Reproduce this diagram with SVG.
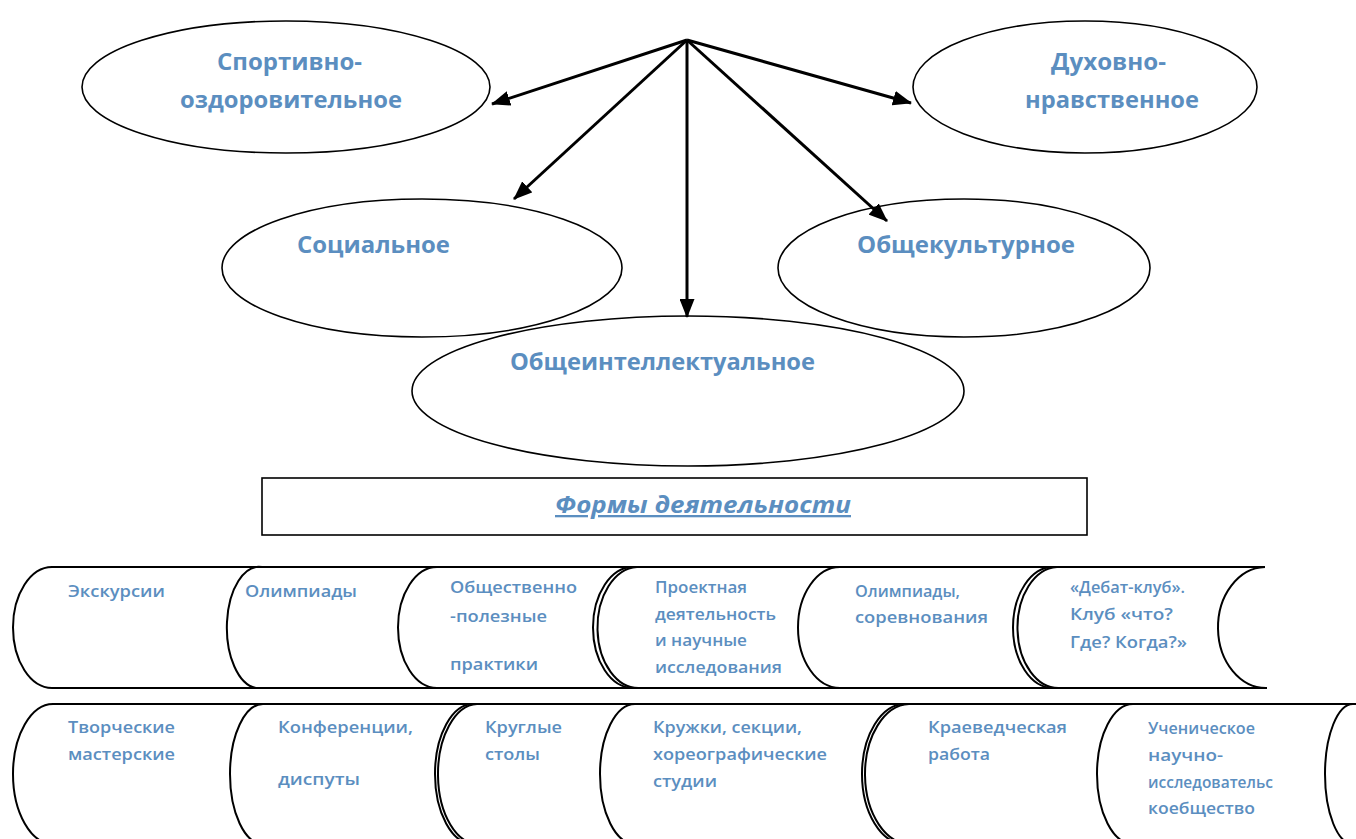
<svg xmlns="http://www.w3.org/2000/svg" width="1356" height="839" viewBox="0 0 1356 839">
<defs>
<style>
.ell{fill:none;stroke:#000;stroke-width:1.6}
.lbl{font-family:"Open Sans","Liberation Sans",sans-serif;font-weight:bold;font-size:23px;fill:#5b8ec0}
.ttl{font-family:"Open Sans","Liberation Sans",sans-serif;font-weight:bold;font-style:italic;font-size:23px;fill:#5b8ec0;text-decoration:underline}
.cell{font-family:"Open Sans","Liberation Sans",sans-serif;font-size:16.5px;font-weight:600;fill:#5b8ec0}
.conn{stroke:#000;stroke-width:3;fill:none;marker-end:url(#ah)}
.arc{fill:none;stroke:#000;stroke-width:2}
.rule{stroke:#000;stroke-width:2;fill:none}
.box{fill:none;stroke:#000;stroke-width:1.6}
</style>
<marker id="ah" markerUnits="userSpaceOnUse" markerWidth="19" markerHeight="15" refX="18" refY="7.5" orient="auto">
<path d="M0,0 L19,7.5 L0,15 z" fill="#000"/>
</marker>
</defs>
<rect width="1356" height="839" fill="#fff"/>

<g id="connectors">
<line class="conn" x1="687" y1="40" x2="492" y2="104"/>
<line class="conn" x1="687" y1="40" x2="911" y2="103"/>
<line class="conn" x1="687" y1="40" x2="514" y2="199"/>
<line class="conn" x1="687" y1="40" x2="887" y2="221"/>
<line class="conn" x1="687" y1="40" x2="687" y2="317"/>
</g>

<g id="sport">
<ellipse class="ell" cx="286" cy="87" rx="204" ry="66"/>
<text class="lbl" x="217" y="70" textLength="145" lengthAdjust="spacingAndGlyphs">Спортивно-</text>
<text class="lbl" x="180" y="108" textLength="222" lengthAdjust="spacingAndGlyphs">оздоровительное</text>
</g>

<g id="duh">
<ellipse class="ell" cx="1085" cy="87" rx="172" ry="66"/>
<text class="lbl" x="1051" y="70" textLength="115" lengthAdjust="spacingAndGlyphs">Духовно-</text>
<text class="lbl" x="1025" y="108" textLength="174" lengthAdjust="spacingAndGlyphs">нравственное</text>
</g>

<g id="soc">
<ellipse class="ell" cx="422" cy="268" rx="200" ry="69"/>
<text class="lbl" x="297" y="253" textLength="153" lengthAdjust="spacingAndGlyphs">Социальное</text>
</g>

<g id="kult">
<ellipse class="ell" cx="964" cy="268" rx="186" ry="69"/>
<text class="lbl" x="857" y="253" textLength="218" lengthAdjust="spacingAndGlyphs">Общекультурное</text>
</g>

<g id="intel">
<ellipse class="ell" cx="688" cy="391" rx="276" ry="75"/>
<text class="lbl" x="510" y="370" textLength="305" lengthAdjust="spacingAndGlyphs">Общеинтеллектуальное</text>
</g>

<g id="forms">
<rect class="box" x="262" y="478" width="825" height="57"/>
<text class="ttl" x="555" y="513" textLength="296" lengthAdjust="spacingAndGlyphs">Формы деятельности</text>
</g>

<g id="row1">
<line class="rule" x1="52" y1="567" x2="1265" y2="567"/>
<line class="rule" x1="52" y1="688" x2="1267" y2="688"/>
<path class="arc" d="M52,567 A39,60.5 0 0 0 52,688"/>
<path class="arc" d="M262,567 A32,60.5 0 0 0 256,688"/>
<path class="arc" d="M437,567 A39,60.5 0 0 0 437,688"/>
<path class="arc" d="M633,567 A40,60.5 0 0 0 633,688"/>
<path class="arc" d="M637,567 A41,60.5 0 0 0 640,688"/>
<path class="arc" d="M840,567 A42,60.5 0 0 0 840,688"/>
<path class="arc" d="M1053,567 A40,60.5 0 0 0 1053,688"/>
<path class="arc" d="M1057,567 A41,60.5 0 0 0 1060,688"/>
<path class="arc" d="M1265,567 A48,60.5 0 0 0 1267,688"/>
</g>

<g id="cell-ekskursii"><text class="cell" x="68" y="597" textLength="97" lengthAdjust="spacingAndGlyphs">Экскурсии</text></g>
<g id="cell-olimp"><text class="cell" x="245" y="597" textLength="112" lengthAdjust="spacingAndGlyphs">Олимпиады</text></g>
<g id="cell-obshch">
<text class="cell" x="450" y="593" textLength="127" lengthAdjust="spacingAndGlyphs">Общественно</text>
<text class="cell" x="450" y="622" textLength="97" lengthAdjust="spacingAndGlyphs">-полезные</text>
<text class="cell" x="450" y="670" textLength="88" lengthAdjust="spacingAndGlyphs">практики</text>
</g>
<g id="cell-proekt">
<text class="cell" x="655" y="593" textLength="92" lengthAdjust="spacingAndGlyphs">Проектная</text>
<text class="cell" x="655" y="620" textLength="121" lengthAdjust="spacingAndGlyphs">деятельность</text>
<text class="cell" x="655" y="646" textLength="92" lengthAdjust="spacingAndGlyphs">и научные</text>
<text class="cell" x="655" y="673" textLength="127" lengthAdjust="spacingAndGlyphs">исследования</text>
</g>
<g id="cell-olimp2">
<text class="cell" x="855" y="597" textLength="105" lengthAdjust="spacingAndGlyphs">Олимпиады,</text>
<text class="cell" x="855" y="623" textLength="133" lengthAdjust="spacingAndGlyphs">соревнования</text>
</g>
<g id="cell-debat">
<text class="cell" x="1070" y="593" textLength="115" lengthAdjust="spacingAndGlyphs">«Дебат-клуб».</text>
<text class="cell" x="1070" y="620" textLength="103" lengthAdjust="spacingAndGlyphs">Клуб «что?</text>
<text class="cell" x="1070" y="648" textLength="117" lengthAdjust="spacingAndGlyphs">Где? Когда?»</text>
</g>

<g id="row2">
<line class="rule" x1="53" y1="704" x2="1356" y2="704"/>
<path class="arc" d="M53,704 A40,70 0 0 0 53,844"/>
<path class="arc" d="M263,704 A33,70 0 0 0 263,844"/>
<path class="arc" d="M473,704 A38,70 0 0 0 473,844"/>
<path class="arc" d="M477,704 A40,70 0 0 0 479,844"/>
<path class="arc" d="M635,704 A35,70 0 0 0 635,844"/>
<path class="arc" d="M905,704 A43,70 0 0 0 905,844"/>
<path class="arc" d="M909,704 A45,70 0 0 0 911,844"/>
<path class="arc" d="M1133,704 A36,70 0 0 0 1133,844"/>
<path class="arc" d="M1353,704 A28,70 0 0 0 1353,844"/>
</g>

<g id="cell-tvorch">
<text class="cell" x="68" y="733" textLength="107" lengthAdjust="spacingAndGlyphs">Творческие</text>
<text class="cell" x="68" y="760" textLength="107" lengthAdjust="spacingAndGlyphs">мастерские</text>
</g>
<g id="cell-konf">
<text class="cell" x="278" y="733" textLength="135" lengthAdjust="spacingAndGlyphs">Конференции,</text>
<text class="cell" x="278" y="785" textLength="82" lengthAdjust="spacingAndGlyphs">диспуты</text>
</g>
<g id="cell-krugl">
<text class="cell" x="485" y="733" textLength="77" lengthAdjust="spacingAndGlyphs">Круглые</text>
<text class="cell" x="485" y="760" textLength="55" lengthAdjust="spacingAndGlyphs">столы</text>
</g>
<g id="cell-kruzhki">
<text class="cell" x="653" y="733" textLength="149" lengthAdjust="spacingAndGlyphs">Кружки, секции,</text>
<text class="cell" x="653" y="760" textLength="174" lengthAdjust="spacingAndGlyphs">хореографические</text>
<text class="cell" x="653" y="787" textLength="64" lengthAdjust="spacingAndGlyphs">студии</text>
</g>
<g id="cell-kraeved">
<text class="cell" x="928" y="733" textLength="139" lengthAdjust="spacingAndGlyphs">Краеведческая</text>
<text class="cell" x="928" y="760" textLength="62" lengthAdjust="spacingAndGlyphs">работа</text>
</g>
<g id="cell-uchen">
<text class="cell" x="1148" y="734" textLength="107" lengthAdjust="spacingAndGlyphs">Ученическое</text>
<text class="cell" x="1148" y="761" textLength="75" lengthAdjust="spacingAndGlyphs">научно-</text>
<text class="cell" x="1148" y="788" textLength="125" lengthAdjust="spacingAndGlyphs">исследовательс</text>
<text class="cell" x="1148" y="814" textLength="107" lengthAdjust="spacingAndGlyphs">коебщество</text>
</g>
</svg>
